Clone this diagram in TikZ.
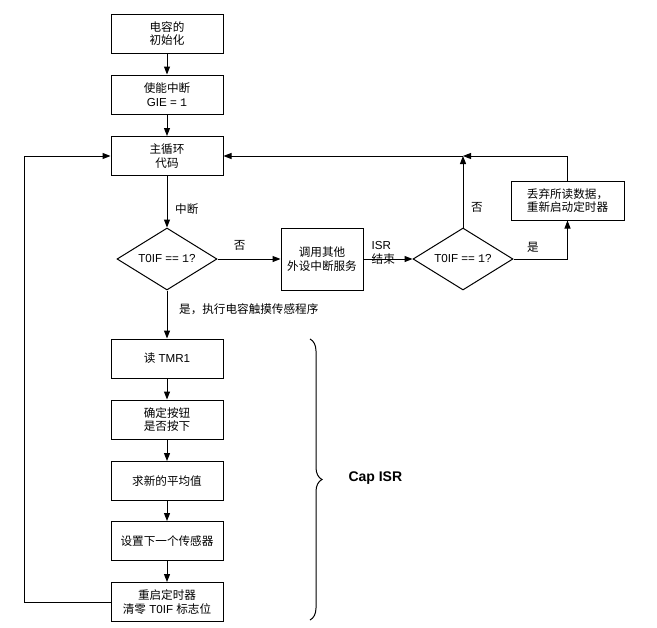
\documentclass[tikz,border=0pt]{standalone}
\usepackage{fontspec}
\setmainfont{Liberation Sans}
\newfontfamily\cjk{Noto Sans CJK SC}
\newfontfamily\codefont{Liberation Mono}
\usetikzlibrary{arrows.meta,shapes.geometric,decorations.pathreplacing}

\tikzset{every picture/.style={line width=0.75pt}}
\tikzset{
  procbox/.style={draw, minimum width=84pt, minimum height=29.25pt, align=center, inner sep=0.75pt, font=\fontsize{8.7}{10.3}\selectfont},
  decbox/.style={draw, diamond, aspect=1.6, minimum width=75pt, minimum height=46.5pt, inner sep=0pt, font=\fontsize{8.7}{10.3}\selectfont},
  flowarrow/.style={-{Triangle[length=6pt,width=4.5pt]}},
  flowtext/.style={inner sep=0.75pt, font=\fontsize{8.7}{10.3}\selectfont}
}

\begin{document}
\begin{tikzpicture}[x=0.75pt,y=0.75pt,yscale=-1,xscale=1]
        \useasboundingbox (0,0) rectangle (657,628);

        %Shape: Rectangle
        \node (init) at (167,33.5) [procbox] {{\cjk 电容的}\\{\cjk 初始化}};
        \node (gie) at (167,94.5) [procbox] {{\cjk 使能中断}\\GIE = {\codefont 1}};
        \node (mainloop) at (167,156) [procbox] {{\cjk 主循环}\\{\cjk 代码}};
        %Shape: Diamond
        \node (checkone) at (167,259) [decbox] {T0IF == {\codefont 1}?};
        \node (otherisr) at (322,259) [procbox, minimum width=61.5pt, minimum height=46.5pt] {{\cjk 调用其他}\\{\cjk 外设中断服务}};
        \node (checktwo) at (463,259) [decbox] {T0IF == {\codefont 1}?};
        \node (discard) at (567.5,200.5) [procbox, minimum width=84.75pt] {{\cjk 丢弃所读数据，}\\{\cjk 重新启动定时器}};
        %Shape: Rectangle (Cap ISR)
        \node (readtmr) at (167,358.5) [procbox] {{\cjk 读} TMR1};
        \node (button) at (167,419.5) [procbox] {{\cjk 确定按钮}\\{\cjk 是否按下}};
        \node (average) at (167,481) [procbox] {{\cjk 求新的平均值}};
        \node (nextsensor) at (167,541) [procbox] {{\cjk 设置下一个传感器}};
        \node (restart) at (167,602) [procbox] {{\cjk 重启定时器}\\{\cjk 清零} T0IF {\cjk 标志位}};

        \coordinate (joint) at (463,156);
        \coordinate (loopleft) at (24,156);

        %Straight Lines
        \draw [flowarrow] (init) -- (gie);
        \draw [flowarrow] (gie) -- (mainloop);
        \draw [flowarrow] (mainloop) -- (checkone) node [flowtext, pos=0.65, right=5pt] {\cjk 中断};
        \draw [flowarrow] (checkone) -- (otherisr) node [flowtext, pos=0.35, above=5pt] {\cjk 否};
        \draw [flowarrow] (checkone) -- (readtmr) node [flowtext, pos=0.4, anchor=west, xshift=8pt] {\cjk 是，执行电容触摸传感程序};
        \draw [flowarrow] (otherisr) -- (checktwo);
        \node (isrdone) [flowtext, anchor=south west, align=left] at ([xshift=5pt,yshift=5pt]otherisr.east) {ISR\\{\cjk 结束}};
        \draw [flowarrow] (checktwo) -- (joint) node [flowtext, pos=0.28, right=5pt] {\cjk 否};
        \draw [flowarrow] (joint) -- (mainloop);
        \draw [flowarrow] (checktwo.east) -| (discard.south) node [flowtext, pos=0.18, above=4pt] {\cjk 是};
        \draw [flowarrow] (discard.north) |- (joint);
        \draw [flowarrow] (restart.west) -| (loopleft) -- (mainloop.west);
        \draw [flowarrow] (readtmr) -- (button);
        \draw [flowarrow] (button) -- (average);
        \draw [flowarrow] (average) -- (nextsensor);
        \draw [flowarrow] (nextsensor) -- (restart);

        %Curve Lines (brace)
        \coordinate (bracetop) at (310,339);
        \coordinate (bracebottom) at (310,620);
        \draw [decorate, decoration={brace, amplitude=9pt}] (bracetop) -- (bracebottom);
        % Text Node
        \node (capisr) at (347,478) [anchor=west, inner sep=0.75pt, font=\fontsize{10.5}{12}\selectfont\bfseries] {Cap ISR};
\end{tikzpicture}
\end{document}
